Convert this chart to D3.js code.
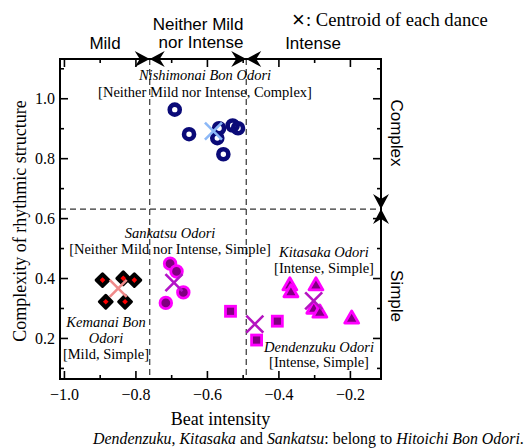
<!DOCTYPE html>
<html>
<head>
<meta charset="utf-8">
<script src="https://cdn.jsdelivr.net/npm/d3@7"></script>
<style>
  body { margin: 0; background: #fff; }
  svg { display: block; }
  .serif { font-family: "Liberation Serif", "Times New Roman", serif; }
  .sans { font-family: "Liberation Sans", Arial, sans-serif; }
</style>
</head>
<body>
<div id="chart"></div>
<script>
const WIDTH = 527, HEIGHT = 448;
const PLOT = { left: 60, right: 381, top: 59, bottom: 379 };
const SERIF = '"Liberation Serif", "Times New Roman", serif';

// beat intensity (x) / complexity (y) for each recording
const nishimonaiX = [-0.690, -0.650, -0.566, -0.528, -0.513, -0.571, -0.554];
const nishimonaiY = [0.962, 0.880, 0.900, 0.909, 0.900, 0.867, 0.813];
const kemanaiX = [-0.892, -0.834, -0.803, -0.883, -0.829];
const kemanaiY = [0.393, 0.399, 0.393, 0.321, 0.321];
const sankatsuX = [-0.703, -0.685, -0.666, -0.715];
const sankatsuY = [0.448, 0.422, 0.352, 0.317];
const dendenzukuX = [-0.534, -0.403, -0.461];
const dendenzukuY = [0.289, 0.256, 0.193];
const kitasakaX = [-0.368, -0.365, -0.295, -0.301, -0.284, -0.195];
const kitasakaY = [0.374, 0.351, 0.374, 0.296, 0.283, 0.263];

const xMajorTicks = [-1.0, -0.8, -0.6, -0.4, -0.2];
const xMinorTicks = [-0.9, -0.7, -0.5, -0.3];
const yMajorTicks = [0.2, 0.4, 0.6, 0.8, 1.0];
const yMinorTicks = [0.1, 0.3, 0.5, 0.7, 0.9, 1.1];

const xDividers = [-0.76, -0.49];   // Mild | Neither | Intense
const yDivider = 0.63;              // Simple | Complex

const x = d3.scaleLinear().domain([-1.011, -0.113]).range([PLOT.left, PLOT.right]);
const y = d3.scaleLinear().domain([0.063, 1.131]).range([PLOT.bottom, PLOT.top]);

const dances = [
  { xs: nishimonaiX, ys: nishimonaiY, marker: 'ring', cross: '#8cb8f7' },
  { xs: kemanaiX, ys: kemanaiY, marker: 'diamond', cross: '#f08a8a' },
  { xs: sankatsuX, ys: sankatsuY, marker: 'circle', cross: '#b414c8' },
  { xs: dendenzukuX, ys: dendenzukuY, marker: 'square', cross: '#b414c0' },
  { xs: kitasakaX, ys: kitasakaY, marker: 'triangle', cross: '#b414c0' }
];

const svg = d3.select('#chart').append('svg')
  .attr('width', WIDTH)
  .attr('height', HEIGHT);

// dashed region dividers
const dividers = svg.append('g')
  .attr('stroke', '#333')
  .attr('stroke-width', 1.2)
  .attr('stroke-dasharray', '6,4');
dividers.selectAll('line.v')
  .data(xDividers)
  .enter().append('line')
  .attr('class', 'v')
  .attr('x1', d => x(d)).attr('x2', d => x(d))
  .attr('y1', PLOT.top).attr('y2', PLOT.bottom);
dividers.append('line')
  .attr('x1', PLOT.left).attr('x2', PLOT.right)
  .attr('y1', y(yDivider)).attr('y2', y(yDivider));

// axes, ticks pointing inwards on all four sides
const h = PLOT.bottom - PLOT.top;
const styleAxis = g => {
  g.attr('font-family', SERIF).attr('font-size', 16);
  g.select('.domain').remove();
  g.selectAll('.tick line').attr('stroke', '#000').attr('stroke-width', 1.6);
  g.selectAll('.tick text').attr('fill', '#000');
};

svg.append('g')
  .attr('transform', `translate(0,${PLOT.bottom})`)
  .call(d3.axisBottom(x).tickValues(xMajorTicks).tickSize(-8).tickPadding(10).tickFormat(d3.format('.1f')))
  .call(styleAxis);
svg.append('g')
  .attr('transform', `translate(0,${PLOT.bottom})`)
  .call(d3.axisBottom(x).tickValues(xMinorTicks).tickSize(-4).tickFormat(''))
  .call(styleAxis);
svg.append('g')
  .attr('transform', `translate(0,${PLOT.top})`)
  .call(d3.axisTop(x).tickValues(xMajorTicks).tickSize(-8).tickFormat(''))
  .call(styleAxis);
svg.append('g')
  .attr('transform', `translate(0,${PLOT.top})`)
  .call(d3.axisTop(x).tickValues(xMinorTicks).tickSize(-4).tickFormat(''))
  .call(styleAxis);

svg.append('g')
  .attr('transform', `translate(${PLOT.left},0)`)
  .call(d3.axisLeft(y).tickValues(yMajorTicks).tickSize(-8).tickPadding(5).tickFormat(d3.format('.1f')))
  .call(styleAxis);
svg.append('g')
  .attr('transform', `translate(${PLOT.left},0)`)
  .call(d3.axisLeft(y).tickValues(yMinorTicks).tickSize(-4).tickFormat(''))
  .call(styleAxis);
svg.append('g')
  .attr('transform', `translate(${PLOT.right},0)`)
  .call(d3.axisRight(y).tickValues(yMajorTicks).tickSize(-8).tickFormat(''))
  .call(styleAxis);
svg.append('g')
  .attr('transform', `translate(${PLOT.right},0)`)
  .call(d3.axisRight(y).tickValues(yMinorTicks).tickSize(-4).tickFormat(''))
  .call(styleAxis);

svg.append('rect')
  .attr('x', PLOT.left).attr('y', PLOT.top)
  .attr('width', PLOT.right - PLOT.left).attr('height', h)
  .attr('fill', 'none').attr('stroke', '#000').attr('stroke-width', 2);

// stealth-shaped arrowheads on the frame, tip at the divider
const arrowHead = 'M0,0 L-15,-8 L-10,0 L-15,8 Z';
const arrows = [];
xDividers.forEach(v => {
  arrows.push({ tx: x(v), ty: PLOT.top, rot: 0 });
  arrows.push({ tx: x(v), ty: PLOT.top, rot: 180 });
});
arrows.push({ tx: PLOT.right, ty: y(yDivider), rot: 90 });
arrows.push({ tx: PLOT.right, ty: y(yDivider), rot: -90 });
svg.append('g').selectAll('path')
  .data(arrows)
  .enter().append('path')
  .attr('d', arrowHead)
  .attr('transform', d => `translate(${d.tx},${d.ty}) rotate(${d.rot})`)
  .attr('fill', '#000');

// markers
const markers = svg.append('g');
dances.forEach(dance => {
  const pts = dance.xs.map((v, i) => [x(v), y(dance.ys[i])]);
  const g = markers.append('g');
  if (dance.marker === 'ring') {
    g.selectAll('circle').data(pts).enter().append('circle')
      .attr('cx', d => d[0]).attr('cy', d => d[1]).attr('r', 5)
      .attr('fill', 'none').attr('stroke', '#0a0a78').attr('stroke-width', 4.6);
  } else if (dance.marker === 'diamond') {
    const sel = g.selectAll('g').data(pts).enter().append('g')
      .attr('transform', d => `translate(${d[0]},${d[1]})`);
    sel.append('path').attr('d', 'M0,-6.4 L6.4,0 L0,6.4 L-6.4,0 Z')
      .attr('fill', '#000').attr('stroke', '#000').attr('stroke-width', 3).attr('stroke-linejoin', 'round');
    sel.append('path').attr('d', 'M0,-2.8 L2.8,0 L0,2.8 L-2.8,0 Z').attr('fill', '#f00');
  } else if (dance.marker === 'circle') {
    g.selectAll('circle').data(pts).enter().append('circle')
      .attr('cx', d => d[0]).attr('cy', d => d[1]).attr('r', 5.8)
      .attr('fill', '#800080').attr('stroke', '#ff00ff').attr('stroke-width', 2.8);
  } else if (dance.marker === 'square') {
    g.selectAll('rect').data(pts).enter().append('rect')
      .attr('x', d => d[0] - 5).attr('y', d => d[1] - 5).attr('width', 10).attr('height', 10)
      .attr('fill', '#800080').attr('stroke', '#ff00ff').attr('stroke-width', 2.8);
  } else {
    g.selectAll('path').data(pts).enter().append('path')
      .attr('d', d3.symbol(d3.symbolTriangle, 85))
      .attr('transform', d => `translate(${d[0]},${d[1]})`)
      .attr('fill', '#800080').attr('stroke', '#ff00ff').attr('stroke-width', 2.8).attr('stroke-linejoin', 'round');
  }
});

// centroid crosses
const crossSize = 8.5;
dances.forEach(dance => {
  const cx = x(d3.mean(dance.xs)), cy = y(d3.mean(dance.ys));
  svg.append('path')
    .attr('d', `M${cx - crossSize},${cy - crossSize} L${cx + crossSize},${cy + crossSize} M${cx - crossSize},${cy + crossSize} L${cx + crossSize},${cy - crossSize}`)
    .attr('stroke', dance.cross).attr('stroke-width', 2.6).attr('fill', 'none');
});

// annotation labels
const addLabel = (lines, cx, baseline, lineHeight) => {
  const t = svg.append('text').attr('font-family', SERIF)
    .attr('text-anchor', 'middle').attr('font-size', 14.5).attr('fill', '#000');
  lines.forEach((line, i) => {
    t.append('tspan')
      .attr('x', cx).attr('y', baseline + i * lineHeight)
      .attr('font-style', line.italic ? 'italic' : 'normal')
      .text(line.text);
  });
};
addLabel([{ text: 'Nishimonai Bon Odori', italic: true }, { text: '[Neither Mild nor Intense, Complex]' }], 205, 80, 17);
addLabel([{ text: 'Sankatsu Odori', italic: true }, { text: '[Neither Mild nor Intense, Simple]' }], 170, 238, 16);
addLabel([{ text: 'Kemanai Bon', italic: true }, { text: 'Odori', italic: true }, { text: '[Mild, Simple]' }], 106, 327, 16);
addLabel([{ text: 'Kitasaka Odori', italic: true }, { text: '[Intense, Simple]' }], 324, 257, 16);
addLabel([{ text: 'Dendenzuku Odori', italic: true }, { text: '[Intense, Simple]' }], 319, 352, 15);

// region names
const sansLabel = (txt, tx, ty, rot) => svg.append('text').attr('class', 'sans')
  .style('font-size', '17px').attr('text-anchor', 'middle').attr('fill', '#000')
  .attr('transform', `translate(${tx},${ty})${rot ? ' rotate(' + rot + ')' : ''}`)
  .attr('dy', rot ? '0.35em' : null)
  .text(txt);
sansLabel('Mild', 105, 49);
sansLabel('Neither Mild', 198, 30);
sansLabel('nor Intense', 201, 48);
sansLabel('Intense', 313, 49);
sansLabel('Complex', 397, 133, 90);
sansLabel('Simple', 397, 296, 90);

// legend
svg.append('text').attr('class', 'sans').style('font-size', '22px')
  .attr('x', 292).attr('y', 27).attr('fill', '#000').text('×');
svg.append('text').attr('font-family', SERIF).attr('font-size', 18.6)
  .attr('x', 306).attr('y', 26).attr('fill', '#000').text(': Centroid of each dance');

// axis titles
svg.append('text').attr('font-family', SERIF).attr('font-size', 18)
  .attr('text-anchor', 'middle').attr('x', (PLOT.left + PLOT.right) / 2).attr('y', 425)
  .attr('fill', '#000').text('Beat intensity');
svg.append('text').attr('font-family', SERIF).attr('font-size', 18)
  .attr('text-anchor', 'middle').attr('transform', `translate(26,${(PLOT.top + PLOT.bottom) / 2 + 2}) rotate(-90)`)
  .attr('fill', '#000').text('Complexity of rhythmic structure');

// footnote
const note = svg.append('text').attr('font-family', SERIF).attr('font-size', 15.9)
  .attr('x', 93).attr('y', 444).attr('fill', '#000');
[['Dendenzuku', true], [', ', false], ['Kitasaka', true], [' and ', false], ['Sankatsu', true],
 [': belong to ', false], ['Hitoichi Bon Odori', true], ['.', false]]
  .forEach(([s, it]) => note.append('tspan').attr('font-style', it ? 'italic' : 'normal').text(s));
</script>
</body>
</html>
